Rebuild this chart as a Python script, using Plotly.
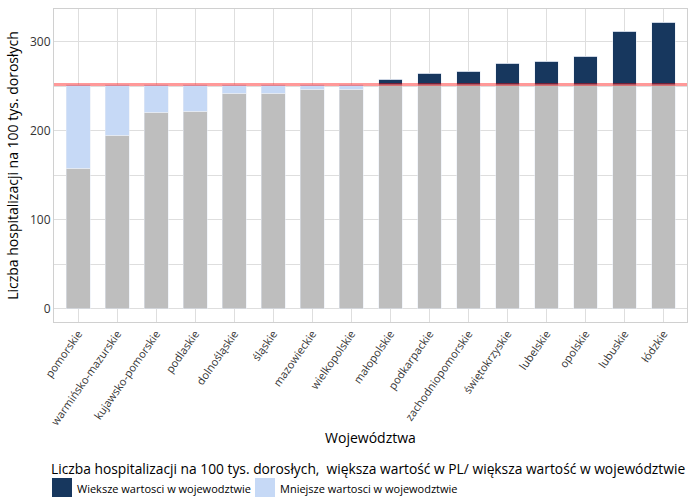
import plotly.graph_objects as go

# Hospitalisations per 100k adults, by voivodeship
wojewodztwa = [
    "pomorskie", "warmińsko-mazurskie", "kujawsko-pomorskie", "podlaskie",
    "dolnośląskie", "śląskie", "mazowieckie", "wielkopolskie", "małopolskie",
    "podkarpackie", "zachodniopomorskie", "świętokrzyskie", "lubelskie",
    "opolskie", "lubuskie", "łódzkie",
]
wartosci = [158, 195, 221, 222, 242, 242, 247, 247, 258, 265, 267, 276, 278, 284, 312, 322]
srednia_pl = 252

y_ticks = [0, 100, 200, 300]

legend_title = "Liczba hospitalizacji na 100 tys. dorosłych,  większa wartość w PL/ większa wartość w województwie"
name_wieksze = "Wieksze wartosci w wojewodztwie"
name_mniejsze = "Mniejsze wartosci w wojewodztwie"

COL_BASE = "#bebebe"
COL_UP = "#17375e"
COL_DOWN = "#c6d9f6"

baza = [min(v, srednia_pl) for v in wartosci]
wieksze = [max(v - srednia_pl, 0) for v in wartosci]
mniejsze = [max(srednia_pl - v, 0) for v in wartosci]

FONT = "Open Sans"
W, H = 692, 497
ML, MR, MT, MB = 54, 5, 9, 175
PW, PH = W - ML - MR, H - MT - MB


def px_x(px):
    return (px - ML) / PW


def px_y(py):
    return (H - MB - py) / PH


fig = go.Figure()
fig.add_trace(go.Bar(x=wojewodztwa, y=baza, marker_color=COL_BASE,
                     showlegend=False, width=0.61))
fig.add_trace(go.Bar(x=wojewodztwa, y=wieksze, marker_color=COL_UP,
                     name=name_wieksze, showlegend=False, width=0.61))
fig.add_trace(go.Bar(x=wojewodztwa, y=mniejsze, marker_color=COL_DOWN,
                     name=name_mniejsze, showlegend=False, width=0.61))

fig.add_hline(y=srednia_pl, line_color="rgba(255,0,0,0.4)", line_width=3)

# legend block below the x axis title: heading, then two colour keys
fig.add_annotation(text=legend_title, xref="paper", yref="paper",
                   x=px_x(50), y=px_y(468), xanchor="left", yanchor="middle",
                   showarrow=False, borderpad=0,
                   font=dict(size=13.8, color="#000000"))
keys = [(52, COL_UP, name_wieksze), (255, COL_DOWN, name_mniejsze)]
for x0, col, label in keys:
    fig.add_shape(type="rect", xref="paper", yref="paper",
                  x0=px_x(x0), x1=px_x(x0 + 20), y0=px_y(497), y1=px_y(478),
                  fillcolor=col, line_width=0)
    fig.add_annotation(text=label, xref="paper", yref="paper",
                       x=px_x(x0 + 23), y=px_y(488), xanchor="left", yanchor="middle",
                       showarrow=False, font=dict(size=11, color="#000000"))

fig.update_layout(
    width=W, height=H,
    barmode="stack",
    showlegend=False,
    plot_bgcolor="white", paper_bgcolor="white",
    margin=dict(l=ML, r=MR, t=MT, b=MB),
    font=dict(family=FONT, size=12, color="#000000"),
    xaxis=dict(
        title=dict(text="Województwa", font=dict(size=14), standoff=6),
        tickangle=-55, tickfont=dict(size=11, color="#333333"),
        showgrid=True, gridcolor="#dedede", gridwidth=1,
        showline=True, linecolor="#d0d0d0", mirror=True,
        range=[-0.62, 15.6], ticks="",
    ),
    yaxis=dict(
        title=dict(text="Liczba hospitalizacji na 100 tys. dorosłych", font=dict(size=14), standoff=8),
        tickvals=y_ticks, tickfont=dict(size=12, color="#333333"),
        range=[-15, 337], showgrid=True, gridcolor="#dedede", gridwidth=1,
        minor=dict(dtick=50, showgrid=True, gridcolor="#dedede", gridwidth=1),
        showline=True, linecolor="#d0d0d0", mirror=True, zeroline=False, ticks="",
    ),
)

fig.write_html("out.html")
